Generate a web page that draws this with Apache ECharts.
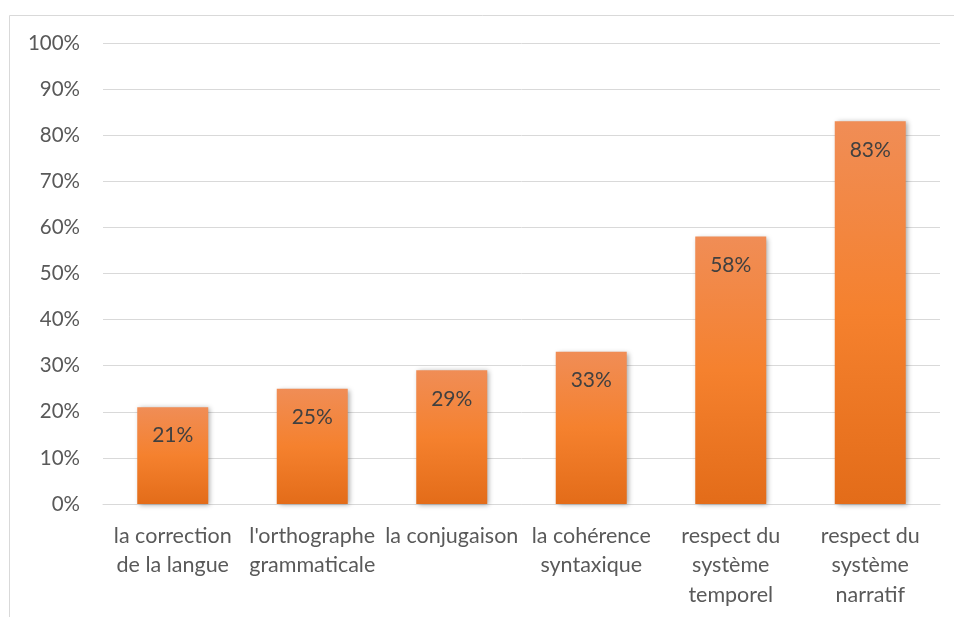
<!DOCTYPE html>
<html><head><meta charset="utf-8">
<script src="https://cdn.jsdelivr.net/npm/echarts@6/dist/echarts.min.js"></script>
<style>html,body{margin:0;padding:0;background:#fff}#c{width:954px;height:617px}</style>
</head><body><div id="c"></div>
<script>
const categories = ["la correction\nde la langue", "l'orthographe\ngrammaticale", "la conjugaison", "la cohérence\nsyntaxique", "respect du\nsystème\ntemporel", "respect du\nsystème\nnarratif"];
const values = [21, 25, 29, 33, 58, 83];
const yTicks = [0, 100, 10];
const chart = echarts.init(document.getElementById('c'));
chart.setOption({
  animation: false,
  textStyle: { fontFamily: 'Lato' },
  graphic: [{ type: 'rect', shape: { x: 9.5, y: 15.5, width: 960, height: 620 }, style: { fill: 'none', stroke: '#d9d9d9', lineWidth: 1 }, silent: true }],
  grid: { left: 103, right: 14, top: 43, bottom: 113 },
  xAxis: {
    type: 'category', data: categories,
    axisLine: { lineStyle: { color: '#d9d9d9' } }, axisTick: { show: false },
    axisLabel: { interval: 0, color: '#595959', fontSize: 21.5, lineHeight: 29.5, margin: 17, fontFamily: 'Lato', verticalAlign: 'top' }
  },
  yAxis: {
    type: 'value', min: yTicks[0], max: yTicks[1], interval: yTicks[2],
    axisLine: { show: false }, axisTick: { show: false },
    splitLine: { lineStyle: { color: '#d9d9d9', width: 1 } },
    axisLabel: { formatter: '{value}%', color: '#595959', fontSize: 20.5, margin: 23, fontFamily: 'Lato' }
  },
  series: [{
    type: 'bar', data: values, barWidth: 71,
    itemStyle: {
      color: new echarts.graphic.LinearGradient(0, 0, 0, 1, [
        { offset: 0, color: '#F08D56' }, { offset: 0.5, color: '#F5812E' }, { offset: 1, color: '#E36C19' }
      ], false),
      shadowColor: 'rgba(0,0,0,0.35)', shadowBlur: 5, shadowOffsetX: 2, shadowOffsetY: 1
    },
    label: { show: true, position: 'insideTop', distance: 18, formatter: '{c}%', color: '#404040', fontSize: 21, fontFamily: 'Lato' }
  }]
});
</script></body></html>
